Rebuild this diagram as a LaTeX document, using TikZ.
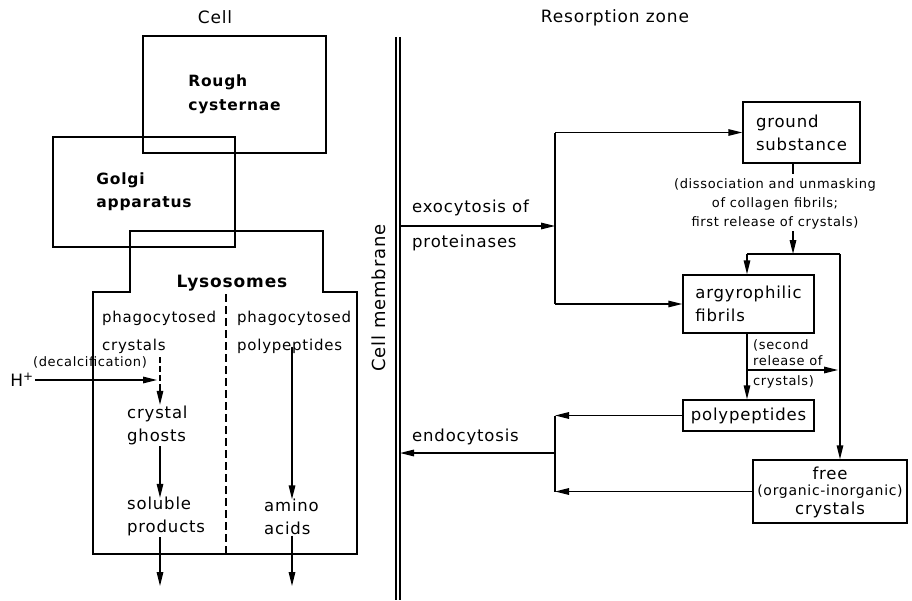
\documentclass[tikz,border=0pt]{standalone}
\usepackage{fontspec}
\setmainfont{DejaVu Sans}[LetterSpace=5]
\usetikzlibrary{arrows.meta}
\newcommand\mainsz{\fontsize{16.5}{23}\selectfont}
\newcommand\smallsz{\fontsize{15}{23}\selectfont}
\newcommand\annsz{\fontsize{13}{19}\selectfont}
\tikzset{
  box/.style={draw, line width=1.4pt, inner sep=0pt, align=left, font=\mainsz},
  arr/.style={-{Triangle[length=14pt,width=6.5pt]}, line width=1.4pt},
  ln/.style={line width=1.4pt},
  lbl/.style={inner sep=1pt, align=left, font=\mainsz},
  ann/.style={inner sep=1pt, align=center, font=\annsz},
}
\begin{document}
\begin{tikzpicture}[x=1pt,y=-1pt]
\useasboundingbox (0,0) rectangle (912,600);
% helper x coordinates
\coordinate (c160) at (160,0);
\coordinate (c292) at (292,0);
\coordinate (c747) at (747,0);
\coordinate (c793) at (793,0);
\coordinate (c840) at (840,0);

% titles
\node[lbl, font=\fontsize{17}{20}\selectfont] (tcell) at (215,17) {Cell};
\node[lbl, font=\fontsize{17}{20}\selectfont] (tres) at (615,18) {Resorption zone};

% ---------- cell side ----------
\node[box, minimum width=183pt, minimum height=117pt, font=\fontsize{15.5}{24}\selectfont\bfseries] (rough) at (234.5,94.5) {Rough\\cysternae};
\node[box, minimum width=182pt, minimum height=110pt, font=\fontsize{15.5}{23}\selectfont\bfseries] (golgi) at (144,192) {Golgi\\apparatus};
\draw[ln] (93,292) -- (130,292) -- (130,231) -- (323,231) -- (323,292) -- (357,292) -- (357,554) -- (93,554) -- cycle;
\node[lbl, font=\fontsize{17}{20}\selectfont\bfseries] (lyso) at (232,283) {Lysosomes};
\draw[ln, dash pattern=on 8pt off 4pt] (226,294) -- (226,554);

\node[lbl, anchor=west, font=\smallsz] (phcr) at (101,332.5) {phagocytosed\\[5pt]crystals};
\node[lbl, anchor=west, font=\smallsz] (phpo) at (236,332.5) {phagocytosed\\[5pt]polypeptides};

\node[inner sep=1pt, font=\fontsize{17}{20}\selectfont] (hplus) at (22,380) {H\textsuperscript{+}};
\node[ann] (decal) at (90,362) {(decalcification)};
\coordinate (hend) at (157,380);
\draw[arr] (hplus.east) -- (hend);

\coordinate (dtop) at (160,357);
\coordinate (dbot) at (160,385);
\draw[ln, dash pattern=on 6pt off 3pt] (dtop) -- (dbot);

\node[lbl, anchor=west] (ghosts) at (126,425.5) {crystal\\ghosts};
\node[lbl, anchor=west] (prod) at (126,516.5) {soluble\\products};
\node[lbl, anchor=west] (amino) at (263,516.5) {amino\\acids};
\coordinate (out1) at (160,586);
\coordinate (out2) at (292,586);

\draw[arr] (dbot) -- (ghosts.north -| c160);
\draw[arr] (ghosts.south -| c160) -- ([yshift=-2pt]prod.north -| c160);
\draw[arr] (prod.south -| c160) -- (out1);
\draw[arr] ([yshift=8pt]phpo.south -| c292) -- ([yshift=-2pt]amino.north -| c292);
\draw[arr] (amino.south -| c292) -- (out2);

% ---------- membrane ----------
\draw[line width=1.1pt] (396,37) -- (396,600);
\draw[line width=1.1pt] (400,37) -- (400,600);
\node[lbl, rotate=90, font=\fontsize{18}{20}\selectfont] (memlbl) at (379,298) {Cell membrane};

% ---------- resorption zone ----------
\node[box, minimum width=117pt, minimum height=61pt] (ground) at (801.5,132.5) {ground\\substance};
\node[box, minimum width=131pt, minimum height=58pt] (argyro) at (748.5,304) {argyrophilic\\fibrils};
\node[box, minimum width=131pt, minimum height=31pt, align=center] (poly) at (748.5,415.5) {polypeptides};
\node[box, minimum width=154pt, minimum height=63pt] (free) at (830,491.5) {};
\node[lbl, align=center] (freet) at (830,473) {free};
\node[ann, font=\fontsize{14}{17}\selectfont] (freeo) at (830,492) {(organic-inorganic)};
\node[lbl, align=center] (freec) at (830,510) {crystals};

\coordinate (m1) at (400,226);
\coordinate (s1) at (555,226);
\coordinate (s1t) at (555,132.5);
\coordinate (s1b) at (555,304);
\node[lbl, anchor=west] (exo1) at (411,208) {exocytosis of};
\node[lbl, anchor=west] (exo2) at (411,243) {proteinases};
\draw[arr] (m1) -- (s1);
\draw[ln] (s1t) -- (s1b);
\draw[arr] (s1t) -- (ground.west);
\draw[arr] (s1b) -- (argyro.west);

\draw[ln] (ground.south -| c793) -- ++(0,10);
\node[ann] (diss) at (775,204) {(dissociation and unmasking\\of collagen fibrils;\\first release of crystals)};
\coordinate (j1) at (793,254);
\coordinate (jl) at (747,254);
\coordinate (jr) at (840,254);
\draw[arr] (793,231) -- (j1);
\draw[ln] (jl) -- (jr);
\draw[arr] (jl) -- (argyro.north -| c747);
\draw[arr] (jr) -- (free.north -| c840);

\draw[arr] (argyro.south -| c747) -- (poly.north -| c747);
\coordinate (sr0) at (747,370);
\coordinate (sr1) at (838,370);
\draw[arr] (sr0) -- (sr1);
\node[ann, anchor=west, align=left, font=\fontsize{13}{16}\selectfont] (sec) at (752,353) {(second\\release of};
\node[ann, anchor=west] (sec2) at (752,382) {crystals)};

\coordinate (e1) at (555,415.5);
\coordinate (e2) at (555,491.5);
\coordinate (e3) at (555,453);
\coordinate (m2) at (400,453);
\draw[arr] (poly.west) -- (e1);
\draw[ln] (e1) -- (e2);
\draw[arr] (free.west) -- (e2);
\draw[arr] (e3) -- (m2);
\node[lbl, anchor=west] (endo) at (411,437) {endocytosis};
\end{tikzpicture}
\end{document}
